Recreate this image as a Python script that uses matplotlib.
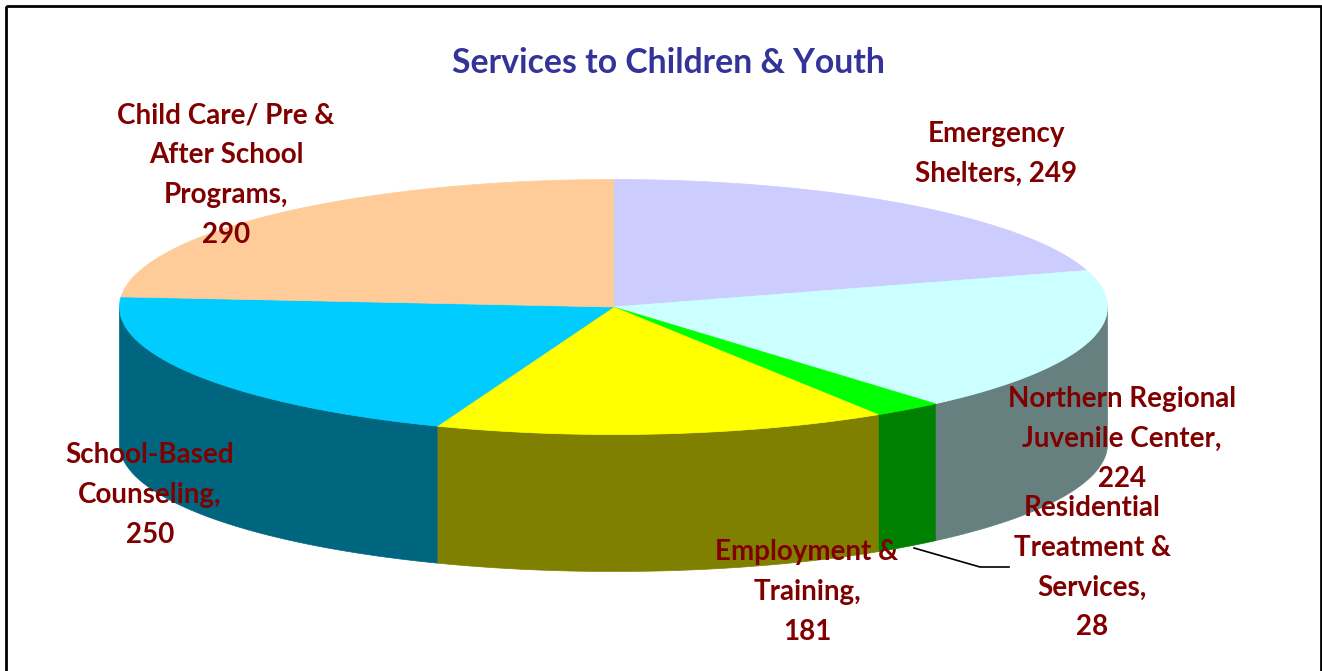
import numpy as np
import matplotlib
matplotlib.use('Agg')
import matplotlib.pyplot as plt
from matplotlib.patches import Polygon, Rectangle

plt.rcParams['font.family'] = ['Lato', 'DejaVu Sans']

# clockwise from 12 o'clock
values = [249, 224, 28, 181, 250, 290]
top_colors = ['#CCCCFF', '#CCFFFF', '#00FF00', '#FFFF00', '#00CCFF', '#FFCC99']
side_colors = ['#666699', '#668080', '#008000', '#808000', '#006680', '#806640']
labels = ['Emergency\nShelters, 249',
          'Northern Regional\nJuvenile Center,\n224',
          'Residential\nTreatment &\nServices,\n28',
          'Employment &\nTraining,\n181',
          'School-Based\nCounseling,\n250',
          'Child Care/ Pre &\nAfter School\nPrograms,\n290']
label_pos = [(996, 153.5), (1122, 439), (1092, 567.5), (807, 592), (150, 495), (226, 175)]

cx, cy = 613.5, 307
rx, ry = 494, 127.5
depth = 137


def rim(a0, a1, n=200):
    t = np.linspace(a0, a1, n)
    return cx + rx * np.sin(t), cy - ry * np.cos(t)


fig = plt.figure(figsize=(13.22, 6.71), dpi=100)
ax = fig.add_axes([0, 0, 1, 1])
ax.set_xlim(0, 1322)
ax.set_ylim(671, 0)
ax.axis('off')

ax.add_patch(Rectangle((6, 6), 1314.5, 700, fill=False, ec='black', lw=2))

edges = np.cumsum([0] + values) / sum(values) * 2 * np.pi

# side walls, only the part of the rim facing the viewer
for i in range(len(values)):
    a0 = max(edges[i], np.pi / 2)
    a1 = min(edges[i + 1], 3 * np.pi / 2)
    if a1 <= a0:
        continue
    x, y = rim(a0, a1)
    pts = np.vstack([np.column_stack([x, y]),
                     np.column_stack([x[::-1], y[::-1] + depth])])
    ax.add_patch(Polygon(pts, fc=side_colors[i], ec=side_colors[i], lw=0.5))

# top face
for i in range(len(values)):
    x, y = rim(edges[i], edges[i + 1])
    pts = np.vstack([[cx, cy], np.column_stack([x, y])])
    ax.add_patch(Polygon(pts, fc=top_colors[i], ec=top_colors[i], lw=0.5))

ax.plot([914, 980, 1009], [548, 567, 567], color='black', lw=1.2)

ax.text(668, 63, 'Services to Children & Youth', color='#333399', fontsize=24.3,
        fontweight='bold', ha='center', va='center')

for lab, (lx, ly) in zip(labels, label_pos):
    ax.text(lx, ly, lab, color='#800000', fontsize=20, fontweight='bold',
            ha='center', va='center', linespacing=1.66)

fig.savefig('out.png', dpi=100)
